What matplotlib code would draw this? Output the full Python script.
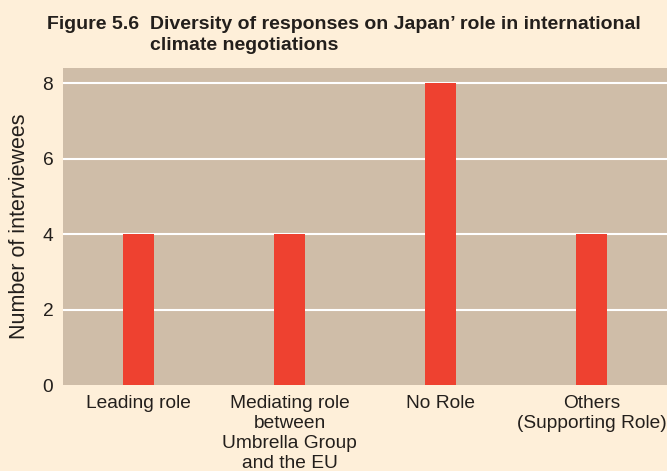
import matplotlib.pyplot as plt
import numpy as np

plt.rcParams['font.family'] = ['Liberation Sans', 'DejaVu Sans']

categories = ["Leading role", "Mediating role\nbetween\nUmbrella Group\nand the EU",
              "No Role", "Others\n(Supporting Role)"]
counts = [4, 4, 8, 4]

bg = "#FEEFD9"
panel = "#CFBDA8"
red = "#EE4130"
ink = "#231F1C"

fig = plt.figure(figsize=(6.67, 4.71), dpi=100, facecolor=bg)
ax = fig.add_axes([63/667, 1-385/471, 604/667, (385-68)/471])
ax.set_facecolor(panel)

x = np.arange(len(categories))
ax.bar(x, counts, width=0.205, color=red, zorder=3)

ax.set_xlim(-0.5, 3.5)
ax.set_ylim(0, 8.4)
ax.set_yticks([0, 2, 4, 6, 8])
for yv in [2, 4, 6, 8]:
    ax.axhline(yv, color="white", lw=1.5, zorder=2)
ax.set_xticks(x)
ax.set_xticklabels(categories, fontsize=13.8, color=ink, linespacing=1.24)
ax.tick_params(axis="both", length=0, colors=ink)
ax.tick_params(axis="x", pad=7)
ax.tick_params(axis="y", pad=7, labelsize=13.8)
for s in ax.spines.values():
    s.set_visible(False)
ax.set_ylabel("Number of interviewees", fontsize=15.5, color=ink, labelpad=9)

fig.text(47/667, 1-29/471, "Figure 5.6", fontsize=14, fontweight="bold",
         color=ink, va="baseline")
fig.text(150/667, 1-29/471, "Diversity of responses on Japan\u2019 role in international",
         fontsize=14, fontweight="bold", color=ink, va="baseline")
fig.text(150/667, 1-50/471, "climate negotiations",
         fontsize=14, fontweight="bold", color=ink, va="baseline")

fig.savefig("out.png", dpi=100, facecolor=bg)
